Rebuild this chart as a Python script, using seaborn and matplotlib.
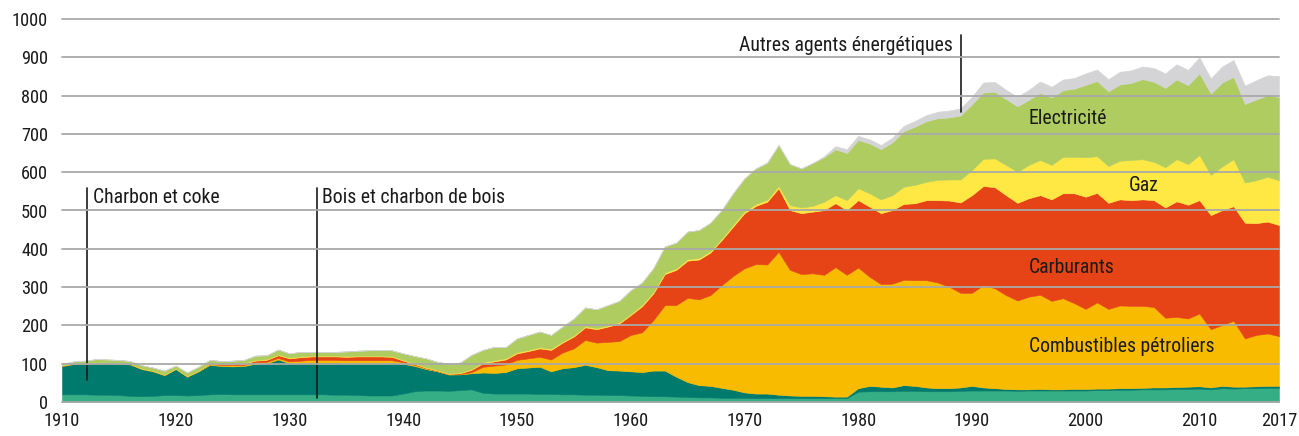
import matplotlib
matplotlib.use("Agg")
import matplotlib.pyplot as plt
from matplotlib import font_manager as fm
import seaborn as sns
import pandas as pd

years = list(range(1910, 2018))

bois = [20, 20, 20, 19, 19, 18, 16, 15, 16, 18,
        18, 17, 18, 20, 21, 20, 20, 20, 20, 20,
        20, 20, 20, 20, 19, 19, 18, 17, 17, 17,
        22, 28, 30, 30, 29, 31, 33, 24, 22, 22,
        22, 22, 21, 21, 20, 20, 19, 19, 18, 18,
        17, 16, 15, 15, 14, 13, 12, 12, 11, 11,
        11, 10, 10, 10, 10, 10, 10, 10, 10, 10,
        27, 28, 28, 28, 29, 29, 28, 28, 28, 29,
        30, 30, 30, 30, 29, 30, 30, 30, 30, 30,
        30, 31, 31, 32, 32, 33, 33, 33, 34, 34,
        35, 33, 36, 35, 36, 36, 37, 37]

charbon = [74, 79, 80, 83, 82, 82, 82, 71, 64, 52,
           68, 49, 62, 77, 73, 73, 74, 80, 81, 91,
           81, 82, 83, 83, 84, 83, 84, 85, 85, 86,
           78, 66, 56, 50, 43, 41, 42, 53, 54, 56,
           66, 68, 71, 59, 68, 71, 78, 72, 65, 64,
           63, 62, 67, 67, 52, 39, 32, 30, 26, 21,
           14, 12, 12, 9, 7, 6, 6, 5, 4, 4,
           9, 14, 12, 10, 15, 13, 10, 8, 8, 9,
           12, 8, 6, 4, 4, 3, 4, 3, 3, 4,
           4, 4, 4, 4, 4, 4, 5, 5, 5, 6,
           6, 5, 6, 5, 4, 5, 5, 5]

combustibles = [1, 1, 1, 1, 1, 1, 1, 1, 1, 1,
                1, 1, 1, 2, 3, 3, 3, 4, 4, 4,
                5, 6, 7, 7, 7, 7, 7, 7, 7, 6,
                4, 3, 2, 1, 0, 1, 3, 15, 19, 20,
                22, 24, 26, 31, 41, 49, 65, 64, 74, 77,
                95, 104, 132, 171, 187, 220, 224, 237, 268, 297,
                324, 338, 337, 373, 328, 318, 320, 317, 338, 318,
                315, 285, 268, 271, 275, 276, 280, 276, 265, 247,
                243, 267, 261, 245, 232, 242, 246, 231, 238, 224,
                209, 225, 208, 216, 215, 214, 210, 182, 183, 178,
                190, 152, 159, 172, 126, 134, 137, 130]

carburants = [0, 0, 0, 0, 0, 0, 0, 0, 0, 0,
              0, 0, 0, 1, 2, 2, 3, 4, 5, 7,
              8, 9, 9, 9, 9, 9, 10, 10, 10, 9,
              4, 2, 1, 1, 1, 2, 6, 9, 11, 13,
              17, 19, 22, 25, 26, 31, 33, 35, 40, 46,
              52, 68, 70, 81, 92, 97, 104, 111, 118, 129,
              144, 152, 164, 166, 156, 159, 161, 169, 167, 169,
              176, 183, 185, 192, 198, 201, 209, 215, 225, 236,
              255, 259, 264, 261, 255, 257, 260, 265, 274, 287,
              293, 286, 277, 277, 276, 278, 279, 288, 302, 297,
              296, 298, 300, 299, 302, 292, 292, 290]

gaz = [1, 1, 1, 1, 1, 1, 1, 1, 1, 1,
       1, 1, 1, 2, 2, 2, 2, 2, 2, 2,
       2, 2, 2, 2, 2, 2, 2, 2, 2, 2,
       2, 2, 2, 2, 2, 2, 2, 3, 3, 3,
       3, 3, 3, 3, 3, 3, 3, 3, 3, 3,
       3, 4, 4, 4, 4, 4, 4, 4, 4, 5,
       5, 5, 5, 6, 13, 15, 15, 22, 21, 26,
       31, 35, 36, 39, 45, 48, 48, 53, 55, 60,
       66, 71, 75, 79, 81, 87, 92, 90, 95, 95,
       103, 96, 96, 101, 105, 105, 100, 105, 110, 106,
       118, 105, 114, 123, 105, 112, 117, 117]

electricite = [3, 5, 6, 8, 8, 8, 7, 8, 8, 10,
               7, 9, 10, 8, 6, 8, 8, 11, 10, 13,
               11, 12, 9, 10, 10, 12, 13, 14, 15, 15,
               17, 19, 23, 21, 25, 26, 37, 32, 35, 29,
               36, 39, 41, 36, 39, 44, 49, 49, 53, 56,
               62, 58, 62, 68, 67, 72, 73, 74, 74, 82,
               86, 93, 97, 107, 107, 102, 112, 116, 120, 123,
               126, 130, 131, 138, 145, 152, 158, 161, 162, 167,
               171, 173, 174, 172, 171, 170, 175, 176, 174, 178,
               189, 196, 195, 199, 201, 209, 209, 207, 208, 206,
               213, 212, 219, 215, 205, 211, 213, 217]

autres = [0] * 66 + [0, 3, 8, 10,
                     11, 11, 11, 12, 14, 15, 16, 17, 18, 19,
                     20, 26, 26, 24, 25, 26, 30, 28, 28, 28,
                     30, 30, 32, 33, 33, 33, 36, 38, 40, 40,
                     42, 40, 42, 44, 48, 50, 52, 55]

series_names = ["Bois et charbon de bois", "Charbon et coke", "Combustibles pétroliers",
                "Carburants", "Gaz", "Electricité", "Autres agents énergétiques"]
colors = ["#35ad85", "#007a6c", "#f9bb00", "#e64416", "#ffe843", "#afcc60", "#d4d4d6"]

df = pd.DataFrame({
    "year": years,
    series_names[0]: bois,
    series_names[1]: charbon,
    series_names[2]: combustibles,
    series_names[3]: carburants,
    series_names[4]: gaz,
    series_names[5]: electricite,
    series_names[6]: autres,
})

sns.set_theme(style="white")
plt.rcParams["font.family"] = ["Liberation Sans", "DejaVu Sans"]

# pick a condensed sans if one is installed
font_path = None
prefs = ["robotocondensed-regular", "liberationsansnarrow-regular", "dejavusanscondensed.ttf",
         "notosans-condensed.ttf", "notosans-condensed-regular", "opensans-condensedregular",
         "opensans_condensed-regular"]
files = [f.fname for f in fm.fontManager.ttflist]
for p in prefs:
    hits = [f for f in files if p in f.lower().replace(" ", "")]
    if hits:
        font_path = hits[0]
        break
if font_path is None:
    for f in files:
        low = f.lower()
        if ("condensed" in low or "narrow" in low) and "bold" not in low and "italic" not in low \
                and "light" not in low and "semi" not in low and "extra" not in low and "thin" not in low \
                and "medium" not in low and "black" not in low:
            font_path = f
            break


def fp(size):
    if font_path:
        return fm.FontProperties(fname=font_path, size=size)
    return fm.FontProperties(family=["Liberation Sans", "DejaVu Sans"], size=size)


fig = plt.figure(figsize=(12.99, 4.36), dpi=100)
ax = fig.add_axes([62 / 1299, 34 / 436, (1279 - 62) / 1299, (417 - 34) / 436])

polys = ax.stackplot(df["year"], [df[n] for n in series_names], colors=colors, labels=series_names)
for p, c in zip(polys, colors):
    p.set_edgecolor(c)
    p.set_linewidth(0.4)

ax.set_xlim(1910, 2017)
ax.set_ylim(0, 1000)
ax.set_yticks(range(0, 1001, 100))
ax.set_xticks([1910, 1920, 1930, 1940, 1950, 1960, 1970, 1980, 1990, 2000, 2010, 2017])
ax.set_axisbelow(False)
ax.grid(axis="y", color="#a9a9a9", linewidth=1.3)
ax.grid(axis="x", visible=False)
for gl in ax.get_ygridlines():
    gl.set_clip_on(False)
for s in ax.spines.values():
    s.set_visible(False)
ax.tick_params(axis="both", length=0, colors="#1a1a1a")
ax.tick_params(axis="y", pad=10)
ax.tick_params(axis="x", pad=7)

# size text so that the label width matches the reference
renderer = fig.canvas.get_renderer()
probe = ax.text(0, 0, "Autres agents énergétiques", fontproperties=fp(15))
w = probe.get_window_extent(renderer).width
probe.remove()
size = 15 * 214.0 / w
tick_size = size * 0.93

for lab in ax.get_xticklabels() + ax.get_yticklabels():
    lab.set_fontproperties(fp(tick_size))

tc = "#1a1a1a"
ax.plot([1912.2, 1912.2], [57, 559], color=tc, lw=1.2, clip_on=False)
ax.text(1912.7, 533, "Charbon et coke", ha="left", va="center", color=tc, fontproperties=fp(size))
ax.plot([1932.4, 1932.4], [10, 559], color=tc, lw=1.2, clip_on=False)
ax.text(1932.9, 533, "Bois et charbon de bois", ha="left", va="center", color=tc, fontproperties=fp(size))
ax.plot([1989.0, 1989.0], [757, 958], color=tc, lw=1.2, clip_on=False)
ax.text(1988.3, 932, "Autres agents énergétiques", ha="right", va="center", color=tc, fontproperties=fp(size))
ax.text(1995.0, 739, "Electricité", ha="left", va="center", color=tc, fontproperties=fp(size))
ax.text(2003.75, 564, "Gaz", ha="left", va="center", color=tc, fontproperties=fp(size))
ax.text(1995.0, 352, "Carburants", ha="left", va="center", color=tc, fontproperties=fp(size))
ax.text(1995.0, 146, "Combustibles pétroliers", ha="left", va="center", color=tc, fontproperties=fp(size))

fig.savefig("out.png", dpi=100)
